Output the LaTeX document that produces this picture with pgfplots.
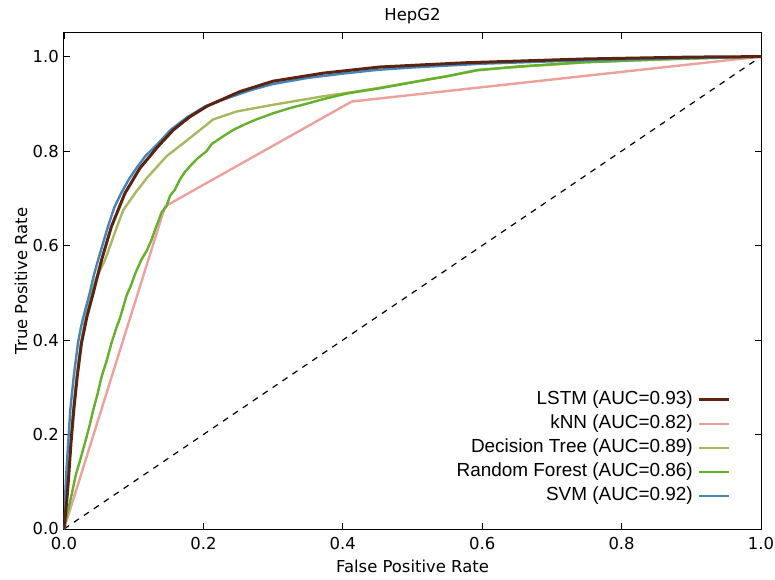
\documentclass[border=0pt]{standalone}
\usepackage{pgfplots}
\pgfplotsset{compat=1.18}
\usetikzlibrary{calc}
\usepackage{fontspec}
\setmainfont{DejaVu Sans}
\newfontfamily\legendfont{Liberation Sans}

\definecolor{clstm}{HTML}{5A2410}
\definecolor{cknn}{HTML}{EEA09D}
\definecolor{cdtree}{HTML}{A8B85E}
\definecolor{crforest}{HTML}{62B328}
\definecolor{csvm}{HTML}{4485BC}

\begin{document}
\begin{tikzpicture}
\begin{axis}[
  scale only axis, width=697bp, height=496bp,
  xmin=0, xmax=1, ymin=0, ymax=1.05,
  xtick={0,0.2,0.4,0.6,0.8,1}, ytick={0,0.2,0.4,0.6,0.8,1},
  tick align=inside, major tick length=6bp,
  tick style={black, line width=0.8bp},
  axis line style={black, line width=1bp},
  /pgf/number format/fixed, /pgf/number format/fixed zerofill,
  /pgf/number format/precision=1, /pgf/number format/assume math mode=true,
  tick label style={font=\fontsize{16.5}{19}\selectfont},
  xticklabel style={anchor=north, inner sep=0pt, yshift=-8bp},
  yticklabel style={anchor=east, inner sep=0pt, xshift=-5bp},
  title={HepG2},
  title style={font=\fontsize{16.5}{19}\selectfont, at={(axis description cs:0.5,1.0222)}, anchor=center},
  xlabel={False Positive Rate}, ylabel={True Positive Rate},
  xlabel style={font=\fontsize{16.5}{19}\selectfont, at={(axis description cs:0.5,-0.0746)}, anchor=center},
  ylabel style={font=\fontsize{16.5}{19}\selectfont, at={(axis description cs:-0.0617,0.5)}, anchor=center},
  legend style={draw=none, fill=none, at={(axis cs:0.957,0.299)}, anchor=north east,
    font=\legendfont\fontsize{19}{22}\selectfont, inner sep=0pt,
    nodes={inner sep=2bp, text height=15bp, text depth=5bp},
    /tikz/every odd column/.append style={column sep=3bp}},
  legend cell align=right, legend plot pos=right,
  legend image code/.code={\draw[#1] (0bp,0bp) -- (30bp,0bp);},
]
% legend entries in the reference order
\addlegendimage{clstm, line width=3bp}
\addlegendentry{LSTM (AUC=0.93)}
\addlegendimage{cknn, line width=2.4bp}
\addlegendentry{kNN (AUC=0.82)}
\addlegendimage{cdtree, line width=2.4bp}
\addlegendentry{Decision Tree (AUC=0.89)}
\addlegendimage{crforest, line width=2.4bp}
\addlegendentry{Random Forest (AUC=0.86)}
\addlegendimage{csvm, line width=2.4bp}
\addlegendentry{SVM (AUC=0.92)}

% chance line
\addplot[black, line width=1.2bp, dash pattern=on 6bp off 6bp, forget plot]
  coordinates {(0,0) (1,1)};

% kNN
\addplot[cknn, line width=2.4bp, forget plot] coordinates {
  (0,0) (0.145,0.683) (0.413,0.905) (1,1)};

% Decision Tree
\addplot[cdtree, line width=2.4bp, forget plot] coordinates {
  (0,0) (0.003,0.06) (0.006,0.11) (0.009,0.17) (0.013,0.25) (0.018,0.32)
  (0.024,0.39) (0.030,0.44) (0.036,0.48) (0.046,0.53) (0.059,0.57)
  (0.076,0.64) (0.085,0.675) (0.102,0.711) (0.119,0.743) (0.147,0.789)
  (0.181,0.828) (0.214,0.867) (0.248,0.884) (0.300,0.898) (0.372,0.916)
  (0.406,0.923) (0.453,0.934) (0.548,0.958) (0.593,0.972) (0.747,0.988)
  (0.900,0.996) (1,1)};

% Random Forest
\addplot[crforest, line width=2.4bp, forget plot] coordinates {
  (0,0) (0.003,0.02) (0.006,0.04) (0.012,0.08) (0.017,0.115) (0.023,0.145)
  (0.030,0.182) (0.036,0.215) (0.042,0.252) (0.048,0.285) (0.054,0.323)
  (0.061,0.355) (0.068,0.393) (0.075,0.425) (0.080,0.445) (0.085,0.47)
  (0.090,0.495) (0.096,0.515) (0.102,0.54) (0.111,0.57) (0.119,0.59)
  (0.125,0.61) (0.131,0.635) (0.140,0.67) (0.147,0.683) (0.152,0.705)
  (0.159,0.718) (0.166,0.739) (0.173,0.755) (0.182,0.770) (0.192,0.785)
  (0.204,0.799) (0.212,0.815) (0.227,0.830) (0.243,0.845) (0.260,0.857)
  (0.276,0.867) (0.300,0.880) (0.324,0.891) (0.350,0.901) (0.372,0.910)
  (0.406,0.922) (0.453,0.933) (0.520,0.951) (0.548,0.958) (0.593,0.971)
  (0.650,0.979) (0.747,0.988) (0.850,0.994) (1,1)};

% SVM
\addplot[csvm, line width=2.4bp, forget plot] coordinates {
  (0,0) (0.001,0.05) (0.003,0.111) (0.006,0.182) (0.009,0.252) (0.014,0.323)
  (0.020,0.393) (0.024,0.425) (0.028,0.45) (0.037,0.50) (0.043,0.538)
  (0.049,0.57) (0.055,0.60) (0.063,0.64) (0.072,0.68) (0.082,0.711)
  (0.093,0.74) (0.104,0.764) (0.117,0.79) (0.131,0.81) (0.153,0.845)
  (0.177,0.872) (0.203,0.895) (0.240,0.915) (0.270,0.93) (0.300,0.942)
  (0.350,0.955) (0.400,0.964) (0.450,0.972) (0.500,0.977) (0.550,0.981)
  (0.600,0.985) (0.700,0.990) (0.800,0.994) (0.900,0.997) (1,1)};

% LSTM
\addplot[clstm, line width=3bp, forget plot] coordinates {
  (0,0) (0.002,0.03) (0.004,0.06) (0.0067,0.111) (0.010,0.182) (0.014,0.252)
  (0.019,0.323) (0.025,0.393) (0.033,0.45) (0.042,0.50) (0.054,0.57)
  (0.068,0.64) (0.0875,0.711) (0.109,0.764) (0.135,0.81) (0.157,0.845)
  (0.180,0.872) (0.205,0.895) (0.2525,0.926) (0.300,0.948) (0.372,0.965)
  (0.453,0.978) (0.576,0.987) (0.747,0.995) (0.900,0.999) (1,1)};
\end{axis}
\pgfresetboundingbox
\path[use as bounding box] ($(current axis.south west)+(-64bp,-51bp)$)
  rectangle ($(current axis.north east)+(14bp,33bp)$);
\end{tikzpicture}
\end{document}
